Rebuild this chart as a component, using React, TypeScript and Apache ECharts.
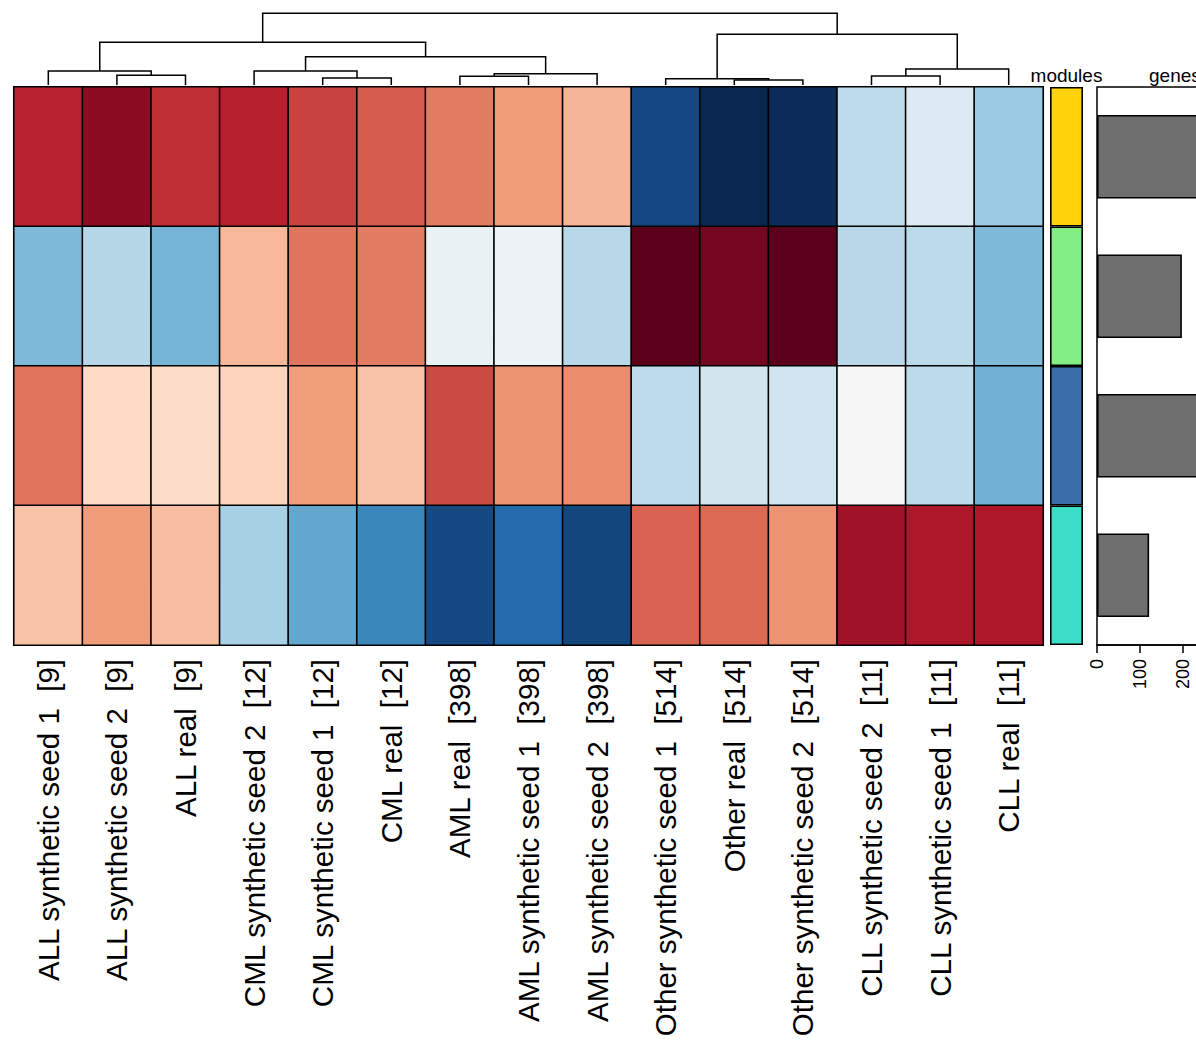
import React, { useEffect, useRef } from "react";
import * as echarts from "echarts";

const FONT = "'Liberation Sans', Arial, Helvetica, sans-serif";

const sampleLabels = [
  "ALL synthetic seed 1  [9]",
  "ALL synthetic seed 2  [9]",
  "ALL real  [9]",
  "CML synthetic seed 2  [12]",
  "CML synthetic seed 1  [12]",
  "CML real  [12]",
  "AML real  [398]",
  "AML synthetic seed 1  [398]",
  "AML synthetic seed 2  [398]",
  "Other synthetic seed 1  [514]",
  "Other real  [514]",
  "Other synthetic seed 2  [514]",
  "CLL synthetic seed 2  [11]",
  "CLL synthetic seed 1  [11]",
  "CLL real  [11]",
];

const modules = ["yellow", "green", "blue", "turquoise"];
const moduleColors = ["#FFD20A", "#83EE83", "#3B6DA6", "#3DDEC8"];

// module eigengene values (rows = modules, columns = samples)
const rowYellow = [0.77, 0.89, 0.74, 0.78, 0.68, 0.61, 0.52, 0.43, 0.34, -0.89, -1.0, -0.98, -0.26, -0.15, -0.37];
const rowGreen = [-0.45, -0.29, -0.47, 0.33, 0.54, 0.52, -0.07, -0.06, -0.28, 1.0, 0.945, 1.0, -0.28, -0.27, -0.45];
const rowBlue = [0.54, 0.2, 0.19, 0.23, 0.42, 0.29, 0.66, 0.45, 0.47, -0.26, -0.19, -0.2, 0.0, -0.27, -0.48];
const rowTurquoise = [0.29, 0.43, 0.31, -0.33, -0.52, -0.65, -0.89, -0.78, -0.9, 0.59, 0.57, 0.45, 0.84, 0.81, 0.81];

const geneCounts = [276, 197, 318, 121];

// hclust-style merges: negative = leaf (1-based, display order), positive = merge row
const merges: [number, number, number][] = [
  [-11, -12, 0.07],
  [-10, 1, 0.088],
  [-5, -6, 0.098],
  [-7, -8, 0.121],
  [-13, -14, 0.126],
  [-2, -3, 0.135],
  [4, -9, 0.158],
  [-4, 3, 0.195],
  [-1, 6, 0.195],
  [5, -15, 0.223],
  [8, 7, 0.395],
  [9, 11, 0.596],
  [2, 10, 0.707],
  [12, 13, 1.0],
];

const palette = [
  "#08264f", "#2166ac", "#4393c3", "#92c5de", "#d1e5f0", "#f7f7f7",
  "#fddbc7", "#f4a582", "#d6604d", "#b2182b", "#5a001b",
];

function buildDendro() {
  const nodeX: number[] = [];
  const segs: number[][] = [];
  const pos = (ref: number) =>
    ref < 0 ? { x: -ref - 0.5, h: 0 } : { x: nodeX[ref - 1], h: merges[ref - 1][2] };
  merges.forEach(([a, b, h]) => {
    const pa = pos(a);
    const pb = pos(b);
    segs.push([pa.x, pa.h, pb.x, pb.h, h]);
    nodeX.push((pa.x + pb.x) / 2);
  });
  return segs;
}

export default function App() {
  const ref = useRef<HTMLDivElement>(null);

  useEffect(() => {
    document.body.style.margin = "0";
    document.body.style.overflow = "hidden";
    if (!ref.current) return;
    const chart = echarts.init(ref.current, null, { renderer: "svg" });

    const rows = [rowYellow, rowGreen, rowBlue, rowTurquoise];
    const heatData: number[][] = [];
    rows.forEach((r, ri) => r.forEach((v, ci) => heatData.push([ci, ri, v])));

    const option: any = {
      animation: false,
      textStyle: { fontFamily: FONT },
      grid: [
        { left: 14, top: 13.3, width: 1029, height: 71.7 },
        { left: 14, top: 87, width: 1029, height: 558 },
        { left: 1050, top: 87, width: 33, height: 558 },
        { left: 1097, top: 87, width: 112, height: 558, show: true, borderColor: "#000", borderWidth: 1.5, backgroundColor: "transparent" },
      ],
      xAxis: [
        { gridIndex: 0, type: "value", min: 0, max: 15, show: false },
        {
          gridIndex: 1,
          type: "category",
          data: sampleLabels,
          axisLine: { show: false },
          axisTick: { show: false },
          axisLabel: { rotate: 90, fontSize: 29.5, color: "#000", margin: 14, fontFamily: FONT, interval: 0 },
        },
        { gridIndex: 2, type: "value", min: 0, max: 1, show: false },
        {
          gridIndex: 3,
          type: "value",
          min: 0,
          max: 260,
          interval: 100,
          axisLine: { show: true, lineStyle: { color: "#000", width: 1.5 } },
          axisTick: { show: true, length: 8, lineStyle: { color: "#000", width: 1.5 } },
          axisLabel: { rotate: 90, fontSize: 18, color: "#000", margin: 14, fontFamily: FONT, showMaxLabel: false },
          splitLine: { show: false },
        },
      ],
      yAxis: [
        { gridIndex: 0, type: "value", min: 0, max: 1, show: false },
        { gridIndex: 1, type: "category", data: modules, inverse: true, show: false },
        { gridIndex: 2, type: "category", data: modules, inverse: true, show: false },
        { gridIndex: 3, type: "category", data: modules, inverse: true, show: false },
      ],
      visualMap: {
        show: false,
        type: "continuous",
        min: -1,
        max: 1,
        seriesIndex: 1,
        dimension: 2,
        inRange: { color: palette },
      },
      series: [
        {
          type: "custom",
          xAxisIndex: 0,
          yAxisIndex: 0,
          data: buildDendro(),
          silent: true,
          renderItem: (_p: any, api: any) => {
            const x1 = api.value(0), h1 = api.value(1), x2 = api.value(2), h2 = api.value(3), hm = api.value(4);
            return {
              type: "polyline",
              shape: {
                points: [api.coord([x1, h1]), api.coord([x1, hm]), api.coord([x2, hm]), api.coord([x2, h2])],
              },
              style: { stroke: "#000", lineWidth: 1.5, fill: null },
            };
          },
        },
        {
          type: "heatmap",
          xAxisIndex: 1,
          yAxisIndex: 1,
          data: heatData,
          silent: true,
          itemStyle: { borderColor: "#000", borderWidth: 1.6 },
          emphasis: { disabled: true },
        },
        {
          type: "bar",
          xAxisIndex: 2,
          yAxisIndex: 2,
          barWidth: "100%",
          silent: true,
          data: moduleColors.map((c) => ({ value: 1, itemStyle: { color: c } })),
          itemStyle: { borderColor: "#000", borderWidth: 1.6 },
        },
        {
          type: "bar",
          xAxisIndex: 3,
          yAxisIndex: 3,
          barWidth: "60%",
          silent: true,
          data: geneCounts,
          itemStyle: { color: "#6e6e6e", borderColor: "#000", borderWidth: 1.6 },
        },
      ],
      graphic: [
        {
          type: "text",
          x: 1066.5,
          y: 75,
          style: { text: "modules", font: `19px ${FONT}`, fill: "#000", align: "center", verticalAlign: "middle" },
        },
        {
          type: "text",
          x: 1149,
          y: 75,
          style: { text: "genes", font: `19px ${FONT}`, fill: "#000", align: "left", verticalAlign: "middle" },
        },
      ],
    };
    chart.setOption(option);
    return () => chart.dispose();
  }, []);

  return <div ref={ref} style={{ width: 1300, height: 1053 }} />;
}
